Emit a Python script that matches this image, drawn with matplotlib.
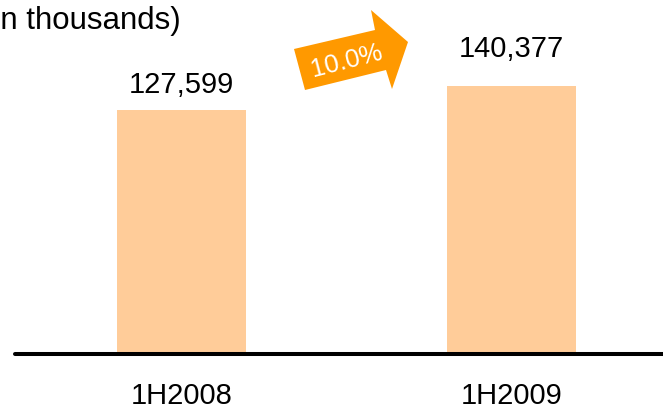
import matplotlib
matplotlib.use("Agg")
import matplotlib.pyplot as plt
from matplotlib.patches import Polygon
import numpy as np

categories = ["1H2008", "1H2009"]
values = [127599, 140377]
value_labels = ["127,599", "140,377"]
label_offsets_pt = [8, 16.5]
growth_label = "10.0%"
unit_label = "(in thousands)"

plt.rcParams['font.family'] = ['Liberation Sans', 'DejaVu Sans']

W, H = 663, 409
fig = plt.figure(figsize=(W / 100, H / 100), dpi=100)
ax = fig.add_axes([15 / W, (H - 354) / H, 1 - 15 / W, 354 / H])

x = np.arange(len(categories))
ax.bar(x, values, width=0.39, color="#FFCC99", zorder=2)
ax.set_xlim(-0.5045, 1.459)
ax.set_ylim(0, 354 / 0.001912)

for xi, v, lab, off in zip(x, values, value_labels, label_offsets_pt):
    ax.annotate(lab, (xi, v), xytext=(0, off), textcoords="offset points",
                ha="center", va="bottom", fontsize=21, color="black")

for s in ["top", "right", "left"]:
    ax.spines[s].set_visible(False)
ax.spines["bottom"].set_linewidth(2.9)
ax.spines["bottom"].set_color("black")
ax.spines["bottom"].set_capstyle("round")
ax.set_yticks([])
ax.set_xticks(x)
ax.set_xticklabels(categories, fontsize=21)
ax.tick_params(axis="x", length=0, pad=20)

# growth arrow (figure pixel coordinates, y from top)
pts = [(294, 49), (375, 30), (371, 10), (408, 42), (392, 89), (386, 70), (305, 90)]
poly = Polygon([(px / W, 1 - py / H) for px, py in pts], closed=True,
               transform=fig.transFigure, facecolor="#FF9900", edgecolor="none")
fig.patches.append(poly)
fig.text(347 / W, 1 - 61 / H, growth_label, rotation=14.5, color="white",
         fontsize=18.5, ha="center", va="center", rotation_mode="anchor")

fig.text(-17 / W, 1 - 29 / H, unit_label, fontsize=22.5, ha="left", va="baseline")

fig.savefig("out.png", dpi=100)
